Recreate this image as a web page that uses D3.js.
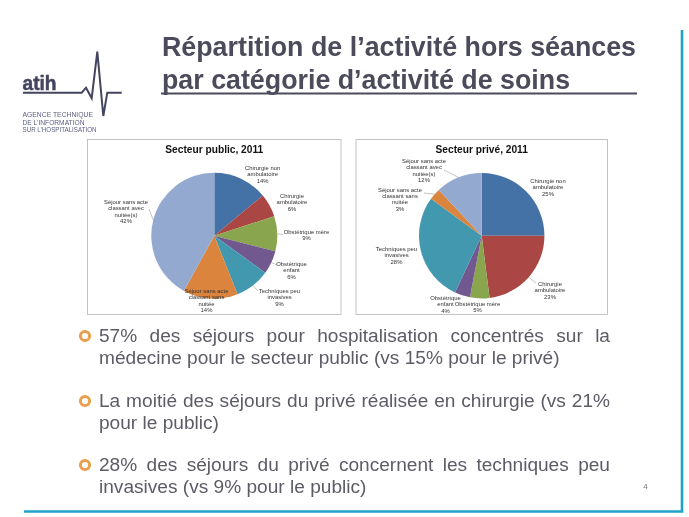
<!doctype html>
<html>
<head>
<meta charset="utf-8">
<title>Répartition de l'activité hors séances</title>
<script src="https://d3js.org/d3.v7.min.js"></script>
<style>
html, body { margin: 0; padding: 0; background: #fff; }
svg { display: block; filter: blur(0.3px); }
text { font-family: "Liberation Sans", Arial, sans-serif; }
.title { font-size: 26.8px; font-weight: 700; fill: #4b4b5b; }
.body { font-size: 19.1px; fill: #5c5c66; }
.chart-title { font-size: 10.2px; font-weight: 700; fill: #111; text-anchor: middle; }
.label { font-size: 5.9px; fill: #333; text-anchor: middle; }
.leader { stroke: #888; stroke-width: 0.5; fill: none; }
.panel { fill: #fff; stroke: #b5b5b5; stroke-width: 0.8; }
</style>
</head>
<body>
<svg id="slide" width="689" height="517"></svg>
<script>
// Values
var categories = [
  ['Chirurgie non', 'ambulatoire'],
  ['Chirurgie', 'ambulatoire'],
  ['Obstétrique mère'],
  ['Obstétrique', 'enfant'],
  ['Techniques peu', 'invasives'],
  ['Séjour sans acte', 'classant sans', 'nuitée'],
  ['Séjour sans acte', 'classant avec', 'nuitée(s)']
];
var publicValues = [14, 6, 9, 6, 9, 14, 42];
var privateValues = [25, 23, 5, 4, 28, 3, 12];
var sliceColors = ['#4472a6', '#aa4643', '#89a54e', '#71588f', '#4198af', '#db843d', '#93a9cf'];

var titleLines = ['Répartition de l’activité hors séances', 'par catégorie d’activité de soins'];
var bullets = [
  ['57% des séjours pour hospitalisation concentrés sur la', 'médecine pour le secteur public (vs 15% pour le privé)'],
  ['La moitié des séjours du privé réalisée en chirurgie (vs 21%', 'pour le public)'],
  ['28% des séjours du privé concernent les techniques peu', 'invasives (vs 9% pour le public)']
];
var logoLines = ['AGENCE TECHNIQUE', 'DE L’INFORMATION', 'SUR L’HOSPITALISATION'];

// Label placement: centre x, first line y, and whether a leader line is drawn
var publicLabels = [
  { x: 262.7, y: 168, leader: null },
  { x: 292, y: 196, leader: null },
  { x: 306.5, y: 232, leader: [283, 234.5] },
  { x: 291.5, y: 264, leader: [277, 265] },
  { x: 279.5, y: 291, leader: [258, 291] },
  { x: 206.5, y: 291, leader: null },
  { x: 126, y: 202, leader: [149, 209] }
];
var privateLabels = [
  { x: 548, y: 181, leader: null },
  { x: 550, y: 284, leader: [536, 283] },
  { x: 477.5, y: 304, leader: null },
  { x: 445.5, y: 298, leader: null },
  { x: 396.5, y: 249, leader: null },
  { x: 400, y: 189.5, leader: [424, 193] },
  { x: 424, y: 161, leader: [444, 170] }
];

var svg = d3.select('#slide');

// Frame on the right and bottom of the slide
var frame = d3.line();
svg.append('path')
  .attr('d', frame([[682, 30], [682, 511.5], [24, 511.5]]))
  .attr('fill', 'none')
  .attr('stroke', '#1fa3cb')
  .attr('stroke-width', 2.6);

// Logo
svg.append('path')
  .attr('d', frame([[23, 92.7], [81.7, 92.7], [86, 87.7], [91.7, 98.3], [97.3, 51.7], [103.3, 116], [107.3, 92.7], [121.7, 92.7]]))
  .attr('fill', 'none')
  .attr('stroke', '#44445f')
  .attr('stroke-width', 2);
svg.append('text')
  .attr('x', 22.5).attr('y', 90)
  .attr('font-size', 20).attr('font-weight', 700)
  .attr('fill', '#44445f')
  .attr('stroke', '#44445f').attr('stroke-width', 0.5)
  .attr('textLength', 34).attr('lengthAdjust', 'spacingAndGlyphs')
  .text('atih');
svg.selectAll('.logo-line').data(logoLines).enter().append('text')
  .attr('class', 'logo-line')
  .attr('x', 22.5)
  .attr('y', function(d, i) { return 117 + i * 7.5; })
  .attr('font-size', 7.2)
  .attr('fill', '#5d5d80')
  .attr('textLength', function(d, i) { return [70.5, 62, 74][i]; })
  .attr('lengthAdjust', 'spacingAndGlyphs')
  .text(function(d) { return d; });

// Title
svg.selectAll('.title').data(titleLines).enter().append('text')
  .attr('class', 'title')
  .attr('x', 162)
  .attr('y', function(d, i) { return 56 + i * 33; })
  .text(function(d) { return d; });
svg.append('line')
  .attr('x1', 161).attr('x2', 637)
  .attr('y1', 93.5).attr('y2', 93.5)
  .attr('stroke', '#4b4b5b')
  .attr('stroke-width', 2.2);

// Draw one pie panel
function drawPie(name, values, labels, box, cx, cy, radius) {
  var g = svg.append('g');
  g.append('rect').attr('class', 'panel')
    .attr('x', box[0]).attr('y', box[1]).attr('width', box[2]).attr('height', box[3]);
  g.append('text').attr('class', 'chart-title')
    .attr('x', box[0] + box[2] / 2).attr('y', box[1] + 13.5)
    .text(name);

  var pie = d3.pie().sort(null).value(function(d) { return d; });
  var arc = d3.arc().innerRadius(0).outerRadius(radius);
  var edge = d3.arc().innerRadius(radius).outerRadius(radius);
  var arcs = pie(values);
  var plot = g.append('g').attr('transform', 'translate(' + cx + ',' + cy + ')');

  plot.selectAll('path').data(arcs).enter().append('path')
    .attr('d', arc)
    .attr('fill', function(d, i) { return sliceColors[i]; });

  // Leader lines go from the slice edge to the label
  arcs.forEach(function(d, i) {
    var end = labels[i].leader;
    if (!end) return;
    var start = edge.centroid(d);
    g.append('line').attr('class', 'leader')
      .attr('x1', cx + start[0]).attr('y1', cy + start[1])
      .attr('x2', end[0]).attr('y2', end[1]);
  });

  arcs.forEach(function(d, i) {
    var lines = categories[i].concat(values[i] + '%');
    g.append('g').selectAll('text').data(lines).enter().append('text')
      .attr('class', 'label')
      .attr('x', labels[i].x)
      .attr('y', function(t, j) { return labels[i].y + 2 + j * 6.4; })
      .text(function(t) { return t; });
  });
}

drawPie('Secteur public, 2011', publicValues, publicLabels, [87.5, 139.5, 253.5, 175], 214.3, 235.7, 63);
drawPie('Secteur privé, 2011', privateValues, privateLabels, [356, 139.5, 251.5, 175], 481.7, 235.7, 62.7);

// Justify a text line between two x positions through its word spacing
function justify(sel, width) {
  sel.each(function() {
    var node = d3.select(this);
    var gaps = node.text().split(' ').length - 1;
    var extra = (width - this.getComputedTextLength()) / gaps;
    node.attr('word-spacing', extra);
  });
}

// Title's first line runs to the end of the rule
justify(svg.selectAll('.title').filter(function(d, i) { return i === 0; }), 474);

// Bullets
var bulletTop = [341.5, 406.5, 470.5];
bullets.forEach(function(lines, k) {
  svg.append('circle')
    .attr('cx', 85).attr('cy', bulletTop[k] - 5.5)
    .attr('r', 4.6)
    .attr('fill', 'none')
    .attr('stroke', '#eb9f4e')
    .attr('stroke-width', 3);
  var rows = svg.selectAll('.row' + k).data(lines).enter().append('text')
    .attr('class', 'body row' + k)
    .attr('x', 99)
    .attr('y', function(d, i) { return bulletTop[k] + i * 22.3; })
    .text(function(d) { return d; });
  justify(rows.filter(function(d, i) { return i === 0; }), 511);
});

svg.append('text')
  .attr('x', 645.5).attr('y', 488.5)
  .attr('font-size', 8).attr('fill', '#777')
  .attr('text-anchor', 'middle')
  .text('4');
</script>
</body>
</html>
